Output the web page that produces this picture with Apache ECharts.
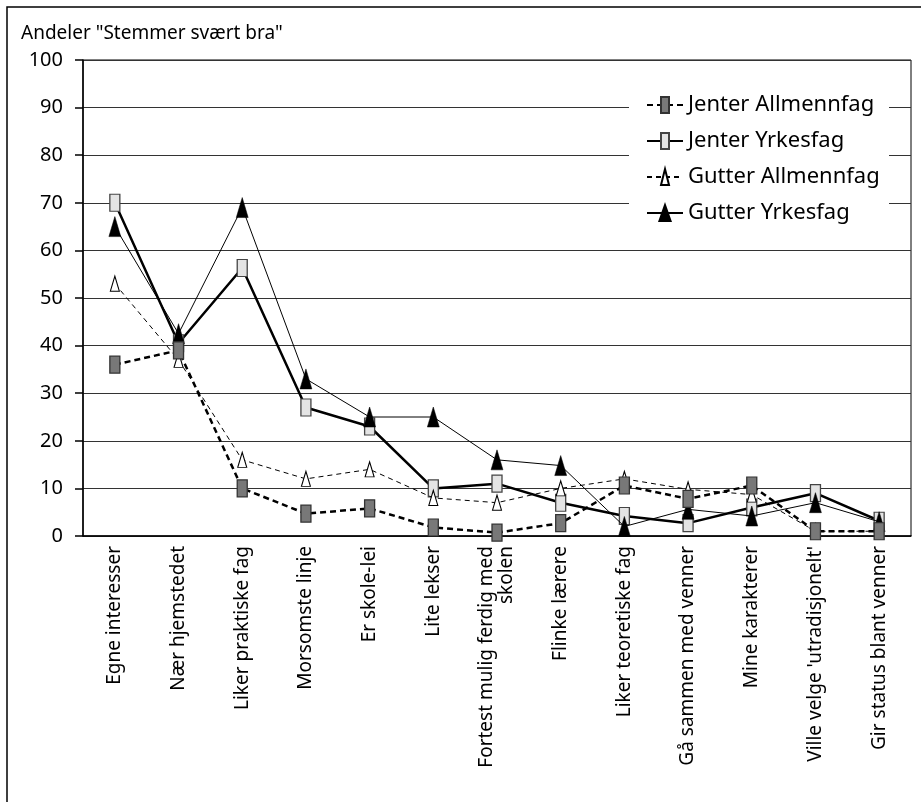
<!DOCTYPE html>
<html>
<head>
<meta charset="utf-8">
<script src="https://cdn.jsdelivr.net/npm/echarts@6/dist/echarts.min.js"></script>
<style>
html,body{margin:0;padding:0;background:#fff;}
#chart{width:921px;height:802px;}
</style>
</head>
<body>
<div id="chart"></div>
<script>
const categories = ['Egne interesser','Nær hjemstedet','Liker praktiske fag','Morsomste linje','Er skole-lei','Lite lekser','Fortest mulig ferdig med\nskolen','Flinke lærere','Liker teoretiske fag','Gå sammen med venner','Mine karakterer',"Ville velge 'utradisjonelt'",'Gir status blant venner'];
const jenterAllmennfag = [36, 39, 10, 4.7, 5.8, 1.8, 0.7, 2.7, 10.6, 7.8, 10.6, 1, 1];
const jenterYrkesfag   = [70, 40.5, 56.3, 27, 23, 10, 11, 7, 4.2, 2.7, 6, 9, 3.2];
const gutterAllmennfag = [53, 37, 16, 12, 14, 8, 7, 10, 12, 9.8, 8.7, 1, 1];
const gutterYrkesfag   = [65, 42.5, 69, 33, 25, 25, 16, 14.8, 2, 5.6, 4.2, 7, 3];
const yTicks = [0,10,20,30,40,50,60,70,80,90,100];

const FONT = 'Noto Sans';
const RECT = 'path://M0,0M20,0M20,34M0,34M5,0L15,0L15,34L5,34Z';
const TRI_BIG = 'path://M0,0M20,0M20,34M0,34M10,0L17,34L3,34Z';
const TRI_SMALL = 'path://M0,0M20,0M20,34M0,34M10,0L15,34L5,34Z';

const chart = echarts.init(document.getElementById('chart'));
chart.setOption({
  animation: false,
  backgroundColor: '#fff',
  textStyle: {fontFamily: FONT},
  title: {
    text: 'Andeler "Stemmer svært bra"',
    left: 16, top: 19,
    textStyle: {fontFamily: FONT, fontSize: 19, fontWeight: 'normal', color: '#000'}
  },
  graphic: [
    {type: 'rect', shape: {x: 7, y: 7, width: 1000, height: 1000}, style: {fill: 'none', stroke: '#000', lineWidth: 1.5}, z: 1, silent: true},
    {type: 'rect', shape: {x: 629, y: 80, width: 260, height: 162}, style: {fill: '#fff'}, z: 3, silent: true}
  ],
  legend: {
    orient: 'vertical',
    left: 646, top: 94,
    padding: 0,
    itemWidth: 36, itemHeight: 20, itemGap: 14,
    selectedMode: false,
    data: ['Jenter Allmennfag','Jenter Yrkesfag','Gutter Allmennfag','Gutter Yrkesfag'],
    textStyle: {fontFamily: FONT, fontSize: 22, color: '#000', lineHeight: 22},
    z: 4
  },
  grid: {
    left: 83, right: 10, top: 60, bottom: 266,
    show: true, borderColor: '#000', borderWidth: 1, backgroundColor: 'transparent'
  },
  xAxis: {
    type: 'category',
    data: categories,
    boundaryGap: true,
    axisLine: {show: true, lineStyle: {color: '#000', width: 1.5}},
    axisTick: {show: false},
    axisLabel: {interval: 0, rotate: 90, margin: 10, fontFamily: FONT, fontSize: 19, color: '#000', lineHeight: 20}
  },
  yAxis: {
    type: 'value',
    min: yTicks[0], max: yTicks[yTicks.length-1], interval: 10,
    axisLine: {show: true, lineStyle: {color: '#000', width: 1.5}},
    axisTick: {show: true, inside: false, length: 8, lineStyle: {color: '#000', width: 1.5}},
    axisLabel: {margin: 20, fontFamily: FONT, fontSize: 20, color: '#000'},
    splitLine: {show: true, lineStyle: {color: '#333', width: 1}}
  },
  series: [
    {
      name: 'Jenter Yrkesfag', type: 'line', data: jenterYrkesfag, z: 2,
      symbol: RECT, symbolSize: [20, 17],
      lineStyle: {color: '#000', width: 2.5, type: 'solid'},
      itemStyle: {color: '#e4e4e4', borderColor: '#444', borderWidth: 1.2}
    },
    {
      name: 'Gutter Allmennfag', type: 'line', data: gutterAllmennfag, z: 3,
      symbol: TRI_SMALL, symbolSize: [18, 15],
      lineStyle: {color: '#000', width: 1, type: [5, 4]},
      itemStyle: {color: '#fff', borderColor: '#000', borderWidth: 1}
    },
    {
      name: 'Gutter Yrkesfag', type: 'line', data: gutterYrkesfag, z: 4,
      symbol: TRI_BIG, symbolSize: [17, 20],
      lineStyle: {color: '#000', width: 1, type: 'solid'},
      itemStyle: {color: '#000', borderColor: '#000', borderWidth: 0.5}
    },
    {
      name: 'Jenter Allmennfag', type: 'line', data: jenterAllmennfag, z: 5,
      symbol: RECT, symbolSize: [20, 17],
      lineStyle: {color: '#000', width: 2.5, type: [6, 4]},
      itemStyle: {color: '#787878', borderColor: '#333', borderWidth: 1.2}
    }
  ]
});
</script>
</body>
</html>
